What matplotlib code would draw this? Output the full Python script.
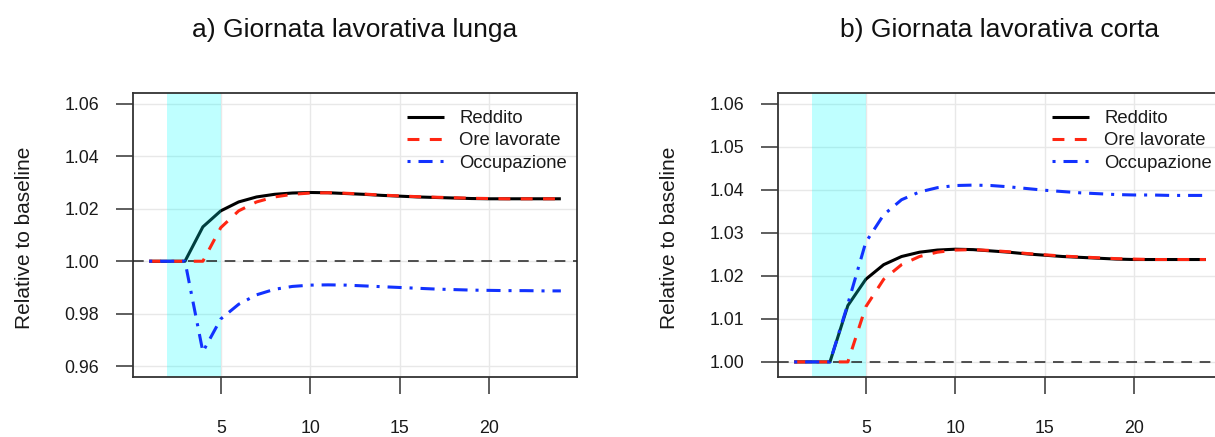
import matplotlib
matplotlib.use("Agg")
import matplotlib.pyplot as plt
import numpy as np

plt.rcParams['font.family'] = ['Liberation Sans', 'DejaVu Sans']

periods = list(range(1, 25))
reddito = [1.0, 1.0, 1.0, 1.0131, 1.0192, 1.0226, 1.0245, 1.0255, 1.0260, 1.0262,
           1.0261, 1.0258, 1.0255, 1.0251, 1.0248, 1.0245, 1.0243, 1.0241, 1.0239,
           1.0238, 1.0238, 1.0238, 1.0238, 1.0238]
ore_lavorate = [1.0, 1.0, 1.0, 1.0, 1.0128, 1.0192, 1.0226, 1.0245, 1.0255, 1.0260,
                1.0261, 1.0259, 1.0256, 1.0252, 1.0249, 1.0246, 1.0244, 1.0242, 1.0240,
                1.0239, 1.0238, 1.0238, 1.0238, 1.0238]
occupazione_lunga = [1.0, 1.0, 1.0, 0.9655, 0.9780, 0.9836, 0.9872, 0.9893, 0.9904, 0.9909,
                     0.9910, 0.9909, 0.9906, 0.9903, 0.9900, 0.9897, 0.9894, 0.9892, 0.9890,
                     0.9889, 0.9888, 0.9888, 0.9887, 0.9887]
occupazione_corta = [1.0, 1.0, 1.0, 1.0135, 1.0278, 1.0342, 1.0377, 1.0395, 1.0405, 1.0410,
                     1.0411, 1.0410, 1.0407, 1.0403, 1.0399, 1.0396, 1.0393, 1.0391, 1.0389,
                     1.0388, 1.0388, 1.0387, 1.0387, 1.0387]

titles = ["a) Giornata lavorativa lunga", "b) Giornata lavorativa corta"]
ylabel = "Relative to baseline"
legend_labels = ["Reddito", "Ore lavorate", "Occupazione"]
xticks = [5, 10, 15, 20]
yticks_a = [0.96, 0.98, 1.00, 1.02, 1.04, 1.06]
yticks_b = [1.00, 1.01, 1.02, 1.03, 1.04, 1.05, 1.06]
ylim_a = (0.96, 1.06)
ylim_b = (0.999, 1.06)
shade_span = (2, 5)

W, H = 1215, 437
fig = plt.figure(figsize=(W / 100, H / 100), dpi=100)

RED = '#ff2612'
BLUE = '#1232ff'
FRAME = '#333333'

def r_lim(lo, hi):
    d = (hi - lo) * 0.04
    return lo - d, hi + d

def panel(left_px, occ, yticks, ylim, title):
    ax = fig.add_axes([left_px / W, 1 - 376.7 / H, 444.6 / W, 283.4 / H])
    ax.set_xlim(*r_lim(min(periods), max(periods)))
    ax.set_ylim(*r_lim(*ylim))
    ax.set_xticks(xticks)
    ax.set_yticks(yticks)
    ax.set_yticklabels([f"{v:.2f}" for v in yticks])
    ax.grid(True, color='#e8e8e8', linewidth=1.0, zorder=0)
    ax.set_axisbelow(True)
    lw = 2.2
    l1, = ax.plot(periods, reddito, color='black', linewidth=lw, zorder=2,
                  solid_capstyle='butt')
    ax.axvspan(*shade_span, color='cyan', alpha=0.25, linewidth=0, zorder=2.5)
    ax.axhline(1.0, color='#222222', linewidth=1.1, linestyle=(0, (7, 5)), zorder=2.8)
    l2, = ax.plot(periods, ore_lavorate, color=RED, linewidth=lw,
                  linestyle=(0, (3.9, 3.4)), zorder=3)
    l3, = ax.plot(periods, occ, color=BLUE, linewidth=lw,
                  linestyle=(0, (1.0, 2.6, 4.6, 2.6)), zorder=3.1)
    for s in ax.spines.values():
        s.set_color(FRAME)
        s.set_linewidth(1.3)
    ax.tick_params(axis='both', direction='out', length=12, width=1.1,
                   color=FRAME, labelsize=12.8, labelcolor='#1a1a1a')
    ax.tick_params(axis='x', pad=19)
    ax.tick_params(axis='y', pad=12)
    leg = ax.legend([l1, l2, l3], legend_labels, loc='upper left',
                    bbox_to_anchor=(0.616, 0.940), frameon=False, fontsize=13.3,
                    borderpad=0, borderaxespad=0, handlelength=2.05,
                    handletextpad=0.8, labelspacing=0.28)
    for t in leg.get_texts():
        t.set_color('#1a1a1a')
    cx = (left_px + 444.6 / 2) / W
    fig.text(cx, 1 - 37.5 / H, title, ha='center', va='baseline', fontsize=19,
             color='#111111')
    fig.text((left_px - 108.5) / W, 1 - 238 / H, ylabel, rotation=90, ha='center',
             va='center', fontsize=15, color='#1a1a1a')
    return ax

panel(132.7, occupazione_lunga, yticks_a, ylim_a, titles[0])
panel(777.7, occupazione_corta, yticks_b, ylim_b, titles[1])

fig.savefig("out.png", dpi=100)
